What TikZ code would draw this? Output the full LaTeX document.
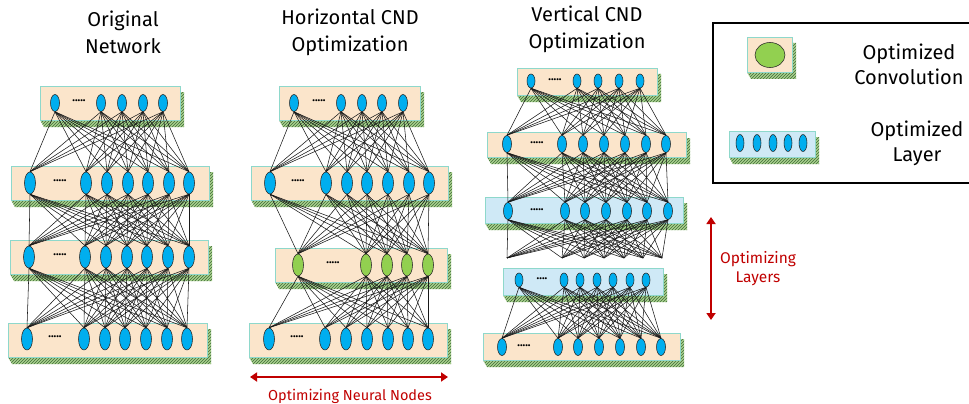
\documentclass[tikz,border=0pt]{standalone}
\usepackage{fontspec}
\setmainfont{Fira Sans}
\usetikzlibrary{shapes.geometric,patterns,arrows.meta}

\definecolor{slabfill}{HTML}{FBE5CB}
\definecolor{slabblue}{HTML}{CFE9F6}
\definecolor{slabedge}{HTML}{8ED8CB}
\definecolor{slabside}{HTML}{3F6B38}
\definecolor{slabgreen}{HTML}{A9D18E}
\definecolor{cellblue}{HTML}{00AEEF}
\definecolor{cellgreen}{HTML}{92D050}
\definecolor{optred}{HTML}{C00000}

% a layer slab: x0 y0 x1 y1 colour
\newcommand{\slab}[5]{%
  \fill[slabgreen] (#3,#2+6) -- (#3+4,#2+6) -- (#3+4,#4+7) -- (#1+4,#4+7) -- (#1,#4) -- (#3,#4) -- cycle;
  \fill[pattern=north east lines, pattern color=slabside] (#3,#2+6) -- (#3+4,#2+6) -- (#3+4,#4+7) -- (#1+4,#4+7) -- (#1,#4) -- (#3,#4) -- cycle;
  \draw[slabedge, line width=0.6pt, fill=#5] (#1,#2) rectangle (#3,#4);
}

\tikzset{
  cell/.style={ellipse, draw=black!85, fill=cellblue, line width=0.55pt,
    inner sep=0pt, minimum width=11pt, minimum height=22pt},
  smallcell/.style={cell, minimum width=9pt, minimum height=17pt},
  tinycell/.style={cell, minimum width=8pt, minimum height=14pt},
  conv/.style={cell, fill=cellgreen},
  dots/.style={inner sep=0pt, font=\fontsize{11}{11}\selectfont\bfseries},
  link/.style={black!90, line width=0.55pt},
  title/.style={align=center, font=\fontsize{20}{27}\selectfont},
  legendtext/.style={align=center, font=\fontsize{20}{25}\selectfont},
  optarrow/.style={optred, line width=2.4pt, {Triangle[length=7pt,width=9pt]}-{Triangle[length=7pt,width=9pt]}},
  optlabel/.style={optred, align=center, font=\fontsize{14.5}{18}\selectfont}
}

\begin{document}
\begin{tikzpicture}[x=1pt,y=-1pt]
  \useasboundingbox (0,0) rectangle (969,404);

  % titles
  \node[title] (ttl1) at (123,32) {Original\\Network};
  \node[title] (ttl2) at (350,32) {Horizontal CND\\Optimization};
  \node[title] (ttl3) at (587,29) {Vertical CND\\Optimization};

  % original network
  \slab{40}{86}{180}{120}{slabfill}
  \slab{11}{166}{209}{200}{slabfill}
  \slab{10}{240}{208}{274}{slabfill}
  \slab{8}{323}{207}{357}{slabfill}
  \foreach \x [count=\i] in {55,101,122,143,163} \node[smallcell] (oa\i) at (\x,103) {};
  \foreach \x [count=\i] in {30,86,107,128,148,169,189} \node[cell] (ob\i) at (\x,183) {};
  \foreach \x [count=\i] in {29,85,106,127,147,168,189} \node[cell] (oc\i) at (\x,257) {};
  \foreach \x [count=\i] in {27,84,105,125,146,167,187} \node[cell] (od\i) at (\x,339) {};
  \node[dots] (oadots) at (79,101) {.....};
  \node[dots] (obdots) at (60,181) {.....};
  \node[dots] (ocdots) at (60,255) {.....};
  \node[dots] (oddots) at (55,337) {.....};
  \foreach \i in {1,...,5} \foreach \j in {1,...,7} \draw[link] (oa\i.south) -- (ob\j.north);
  \foreach \i in {1,...,7} \foreach \j in {1,...,7} \draw[link] (ob\i.south) -- (oc\j.north);
  \foreach \i in {1,...,7} \foreach \j in {1,...,7} \draw[link] (oc\i.south) -- (od\j.north);

  % horizontal CND optimization
  \slab{279}{86}{420}{120}{slabfill}
  \slab{251}{166}{448}{200}{slabfill}
  \slab{275}{248}{447}{282}{slabfill}
  \slab{249}{323}{447}{357}{slabfill}
  \foreach \x [count=\i] in {294,341,362,382,403} \node[smallcell] (ha\i) at (\x,103) {};
  \foreach \x [count=\i] in {270,326,347,367,388,409,429} \node[cell] (hb\i) at (\x,183) {};
  \foreach \x [count=\i] in {298,366,387,407,428} \node[conv] (hc\i) at (\x,265) {};
  \foreach \x [count=\i] in {269,325,346,367,388,408,428} \node[cell] (hd\i) at (\x,339) {};
  \node[dots] (hadots) at (319,101) {.....};
  \node[dots] (hbdots) at (298,181) {.....};
  \node[dots] (hcdots) at (333,263) {.....};
  \node[dots] (hddots) at (297,337) {.....};
  \foreach \i in {1,...,5} \foreach \j in {1,...,7} \draw[link] (ha\i.south) -- (hb\j.north);
  \foreach \i in {1,...,7} \foreach \j in {1,...,5} \draw[link] (hb\i.south) -- (hc\j.north);
  \foreach \i in {1,...,5} \foreach \j in {1,...,7} \draw[link] (hc\i.south) -- (hd\j.north);

  \coordinate (nodesl) at (250,377);
  \coordinate (nodesr) at (448,377);
  \draw[optarrow] (nodesl) -- (nodesr);
  \node[optlabel] (nodeslbl) at (350,396) {Optimizing Neural Nodes};

  % vertical CND optimization
  \slab{517}{68}{657}{95}{slabfill}
  \slab{487}{132}{686}{157}{slabfill}
  \slab{485}{197}{683}{223}{slabblue}
  \slab{503}{268}{663}{295}{slabblue}
  \slab{483}{333}{680}{360}{slabfill}
  \foreach \x [count=\i] in {531,577,598,619,640} \node[tinycell] (va\i) at (\x,81) {};
  \foreach \x [count=\i] in {507,562,583,604,625,646,666} \node[smallcell] (vb\i) at (\x,144) {};
  \foreach \x [count=\i] in {508,565,585,606,627,647,668} \node[smallcell] (vc\i) at (\x,211) {};
  \foreach \x [count=\i] in {507,562,584,604,624,643,662} \coordinate (vt\i) at (\x,258);
  \foreach \x [count=\i] in {519,564,580,597,613,630,646} \node[tinycell] (vd\i) at (\x,280) {};
  \foreach \x [count=\i] in {502,558,578,599,620,641,661} \node[smallcell] (ve\i) at (\x,347) {};
  \node[dots] (vadots) at (555,80) {.....};
  \node[dots] (vbdots) at (537,143) {.....};
  \node[dots] (vcdots) at (537,210) {.....};
  \node[dots] (vddots) at (542,279) {....};
  \node[dots] (vedots) at (524,346) {.....};
  \foreach \i in {1,...,5} \foreach \j in {1,...,7} \draw[link] (va\i.south) -- (vb\j.north);
  \foreach \i in {1,...,7} \foreach \j in {1,...,7} \draw[link] (vb\i.south) -- (vc\j.north);
  \foreach \i in {1,...,7} \foreach \j in {1,...,7} \draw[link] (vc\i.south) -- (vt\j);
  \foreach \i in {1,...,7} \foreach \j in {1,...,7} \draw[link] (vd\i.south) -- (ve\j.north);

  \coordinate (layerst) at (711,217);
  \coordinate (layersb) at (711,320);
  \draw[optarrow] (layerst) -- (layersb);
  \node[optlabel, font=\fontsize{15.5}{19}\selectfont] (layerslbl) at (758,269) {Optimizing\\Layers};

  % legend
  \draw[line width=2pt] (713,23) rectangle (995,183);
  \slab{747}{37}{792}{72}{slabfill}
  \node[conv, minimum width=30pt, minimum height=25pt] (lgconv) at (770,55) {};
  \node[legendtext] (lgconvtxt) at (909,64) {Optimized\\Convolution};
  \slab{729}{131}{815}{157}{slabblue}
  \foreach \x [count=\i] in {740,757,773,788,803} \node[cell, minimum width=8pt, minimum height=17pt] (lg\i) at (\x,143) {};
  \node[legendtext] (lglayertxt) at (917,143) {Optimized\\Layer};
\end{tikzpicture}
\end{document}
